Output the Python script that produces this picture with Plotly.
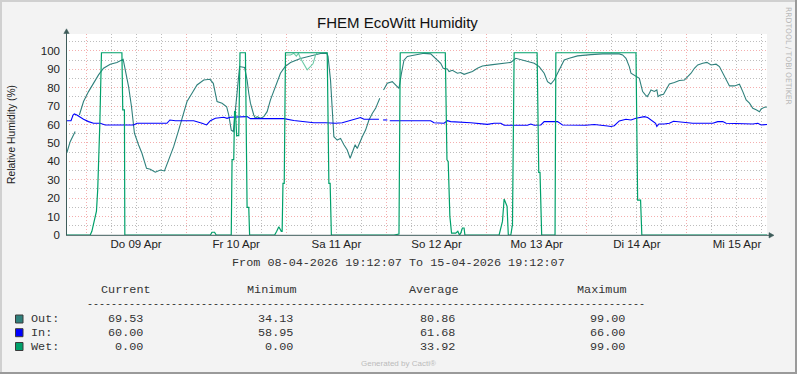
import datetime as dt
import plotly.graph_objects as go

# ---------------- data ----------------
START = dt.datetime(2026, 4, 8, 19, 12, 7)
END = dt.datetime(2026, 4, 15, 19, 12, 7)

# hours since START, relative humidity (%)
out_h = [0.2, 1.0, 2.2, 2.7, 3.2, 4.2, 5.4, 6.6, 7.8, 9.0, 10.6, 12.2, 13.7, 14.2, 15.0, 15.7, 16.4,
         17.4, 18.2, 19.3, 20.2, 21.4, 22.6, 23.6, 24.6, 25.8, 27.0, 28.2, 29.0, 30.2, 31.4, 33.0,
         34.5, 35.3, 36.2, 37.4, 38.5, 39.0, 39.6, 40.1, 40.6, 41.1, 41.6, 42.8, 43.4, 43.8, 44.2,
         45.0, 45.4, 45.8, 46.6, 47.4, 48.2, 49.0, 49.8, 50.6, 51.4, 52.5, 53.8, 56.2, 58.6, 61.0,
         62.5, 62.8, 63.4, 63.8, 64.2, 65.0, 65.8, 66.6, 67.4, 68.1, 68.6, 69.3, 69.8, 70.4, 71.0,
         71.8, 72.6, 73.4, 74.2, 75.2, 75.6, 76.1, 77.0, 78.2, 79.0, 79.8, 80.4, 81.0, 81.8, 83.8,
         85.8, 87.4, 88.6, 89.8, 90.4, 91.4, 91.8, 92.6, 93.8, 94.6, 95.4, 96.2, 97.4, 98.6, 99.8,
         101.8, 104.2, 106.6, 107.8, 108.6, 109.4, 110.6, 112.2, 113.4, 114.6, 115.4, 116.2, 117.0,
         117.8, 118.6, 119.4, 120.6, 122.6, 125.8, 128.6, 132.6, 133.4, 134.2, 135.0, 135.4, 136.6,
         137.4, 137.7, 138.2, 138.9, 139.3, 139.8, 140.2, 141.0, 141.6, 141.9, 142.4, 143.2, 143.8,
         144.6, 145.8, 147.0, 148.2, 149.0, 149.8, 150.6, 151.4, 152.6, 153.6, 154.6, 155.8, 156.6,
         157.4, 158.2, 159.0, 160.2, 161.4, 162.2, 163.0, 163.8, 164.6, 165.4, 166.2, 166.6, 167.4,
         168.0]
out_v = [44.7, 50.7, 56.2, None, 65.2, 72.5, 77.9, 82.4, 87.0, 90.6, 92.8, 93.7, 95.5, 89.7, 80.6,
         69.7, 55.3, 48.9, 44.4, 36.2, 35.7, 34.1, 35.3, 34.8, 40.8, 48.0, 57.0, 66.1, 72.5, 77.0,
         81.5, 84.2, 84.6, 82.4, 72.5, 71.6, 69.7, 65.2, 57.0, 56.2, 68.0, 80.0, 91.5, 91.0, 84.2,
         77.0, 71.6, 65.2, 63.4, 64.3, 63.4, 64.3, 67.0, 73.4, 78.0, 82.4, 87.9, 91.5, 93.7, 95.9,
         97.3, 98.6, 98.8, 97.0, 84.0, 66.0, 53.4, 51.6, 52.5, 49.0, 46.2, 41.7, 45.3, 49.0, 47.0,
         50.7, 53.4, 57.0, 62.5, 66.0, 68.8, 74.3, None, 78.8, 82.4, 83.3, 81.5, 79.7, 87.9, 95.0,
         97.0, 97.8, 98.7, 98.4, 96.0, 93.3, 90.6, 90.2, 88.8, 89.5, 87.9, 88.3, 87.3, 87.9, 88.8,
         90.6, 91.8, 92.4, 93.3, 93.8, 96.0, 95.5, 95.1, 94.2, 93.3, 91.5, 87.9, 83.3, 82.0, 84.2,
         87.9, 91.5, 95.1, 96.0, 97.3, 98.0, 98.4, 98.4, 97.8, 96.0, 91.5, 87.9, 86.0, 85.1, 82.4,
         77.9, 76.0, 75.2, 77.0, 78.8, 78.0, 78.8, 75.2, 76.0, 76.5, 78.8, 82.0, 82.8, 83.9, 84.2,
         86.0, 87.9, 90.6, 92.4, 93.3, 93.8, 92.4, 92.8, 91.5, 87.9, 84.2, 81.0, 81.0, 81.9, 77.9,
         73.4, 71.6, 68.8, 68.0, 67.0, 68.5, 69.4, 69.53]

in_h = [0.2, 1.2, 1.7, 2.0, 2.6, 3.4, 4.2, 5.4, 6.6, 8.2, 9.4, 16.2, 17.0, 24.2, 24.9, 26.2, 30.6,
        32.6, 33.7, 34.6, 35.8, 37.8, 38.6, 39.4, 43.4, 44.2, 52.2, 54.6, 58.2, 59.4, 62.2, 64.6,
        66.2, 67.8, 69.4, 70.6, 71.4, 75.0, 75.5, 76.0, 77.0, 77.3, 77.6, 82.6, 87.4, 88.2, 90.6,
        91.4, 92.2, 97.0, 101.0, 102.6, 104.2, 105.0, 110.6, 111.4, 112.2, 113.8, 114.6, 117.8,
        119.0, 124.6, 126.6, 129.8, 130.6, 131.4, 132.0, 132.6, 134.2, 135.4, 136.6, 137.6, 138.6,
        139.4, 140.6, 141.3, 141.6, 142.1, 143.4, 144.6, 145.6, 146.6, 148.2, 150.2, 155.0, 156.2,
        157.4, 158.2, 164.6, 165.8, 166.6, 168.0]
in_v = [62.1, 62.1, 65.2, 65.8, 65.2, 64.0, 62.9, 61.6, 60.7, 60.7, 59.8, 59.8, 60.7, 60.7, 62.5,
        62.1, 62.1, 60.7, 59.8, 62.1, 63.4, 64.0, 63.4, 64.0, 64.3, 63.2, 63.2, 62.2, 61.6, 61.0,
        61.0, 60.7, 61.0, 62.1, 62.9, 63.8, 62.9, 62.9, None, 62.5, 62.5, None, 62.1, 62.1, 62.1,
        61.0, 60.7, 62.1, 61.6, 61.0, 60.1, 60.7, 60.7, 59.6, 59.6, 60.3, 59.6, 59.8, 61.6, 61.6,
        59.8, 59.6, 60.0, 59.2, 58.95, 59.4, 60.7, 62.0, 62.9, 62.5, 63.4, 64.0, 64.3, 63.8, 62.1,
        60.7, 58.95, 60.3, 60.3, 60.7, 61.8, 61.6, 61.0, 60.7, 60.7, 61.6, 61.6, 60.7, 60.3, 60.7,
        59.8, 60.0]

wet_h = [0.0, 5.8, 6.2, 6.8, 7.3, 7.6, 7.8, 8.1, 8.5, 13.4, 13.6, 14.0, 14.1, 34.6, 35.0, 35.6,
         36.0, 39.6, 39.8, 40.2, 40.4, 40.6, 40.9, 41.4, 41.7, 43.0, 43.4, 43.8, 44.0, 50.0, 50.5,
         51.0, 51.6, 51.8, 52.0, 52.3, 52.6, 62.6, 63.0, 63.3, 63.6, 78.6, 79.8, 80.1, 90.9, 91.3,
         91.6, 92.0, 92.4, 93.4, 93.9, 94.3, 94.6, 95.0, 95.4, 95.6, 103.8, 104.2, 104.6, 105.0,
         105.4, 105.7, 106.0, 106.6, 107.0, 107.4, 112.9, 113.3, 113.6, 114.0, 117.2, 117.4, 136.6,
         137.0, 137.7, 138.0, 168.0]
wet_v = [0, 0, 2, 8.3, 13, 24.6, 35.5, 60, 99, 99, 68, 68, 0, 0, 1.5, 1.5, 0, 0, 41, 41, 67, 67,
         54, 54, 99, 99, 15, 15, 0, 0, 2, 4.5, 2, 2, 28, 28, 99, 99, 28, 28, 0, 0, 0.5, 99, 99, 40.8,
         40, 10, 1, 1, 2, 0, 1, 3.8, 3.8, 0, 0, 3.3, 7.4, 19.6, 16.5, 15.6, 0, 0, 5.6, 99, 99, 34,
         34, 0, 0, 99, 99, 19, 19, 0, 0]

# second (max) wet trace visible around Sa 11 Apr
wet2_h = [52.8, 53.8, 54.6, 55.2, 55.7, 56.2, 57.8, 58.6, 59.2, 59.8, 60.2]
wet2_v = [97.8, 97.8, 98.7, 97.2, 98.7, 96.0, 89.7, 91.5, 93.0, 97.8, 99.0]

day_labels = ["Do 09 Apr", "Fr 10 Apr", "Sa 11 Apr", "So 12 Apr", "Mo 13 Apr", "Di 14 Apr", "Mi 15 Apr"]
label_days = [9, 10, 11, 12, 13, 14, 15]

series_names = ["Out:", "In:", "Wet:"]
series_colors = ["#2F807C", "#0000FF", "#00A06A"]
current = [69.53, 60.00, 0.00]
minimum = [34.13, 58.95, 0.00]
average = [80.86, 61.68, 33.92]
maximum = [99.00, 66.00, 99.00]

TITLE = "FHEM EcoWitt Humidity"
YTITLE = "Relative Humidity (%)"

# ---------------- layout helpers ----------------
W, H = 797, 374
L, R, T, B = 66, 30, 34, 139
PW, PH = W - L - R, H - T - B


def px(x):
    return (x - L) / PW


def py(y):
    return (H - B - y) / PH


def tt(hours):
    return [START + dt.timedelta(hours=v) for v in hours]


fig = go.Figure()
fig.add_trace(go.Scatter(x=tt(out_h), y=out_v, mode="lines", line=dict(color=series_colors[0], width=1.1),
                         connectgaps=False, hoverinfo="skip", xaxis="x", yaxis="y"))
fig.add_trace(go.Scatter(x=tt(in_h), y=in_v, mode="lines", line=dict(color=series_colors[1], width=1.1),
                         connectgaps=False, hoverinfo="skip", xaxis="x", yaxis="y"))
fig.add_trace(go.Scatter(x=tt(wet2_h), y=wet2_v, mode="lines", line=dict(color="#6CCBA6", width=1.1),
                         hoverinfo="skip", xaxis="x", yaxis="y"))
fig.add_trace(go.Scatter(x=tt(wet_h), y=wet_v, mode="lines", line=dict(color=series_colors[2], width=1.2),
                         hoverinfo="skip", xaxis="x", yaxis="y"))
# invisible trace carrying the label axis
fig.add_trace(go.Scatter(x=[START, END], y=[None, None], mode="lines", xaxis="x2", yaxis="y",
                         hoverinfo="skip"))

label_vals = [dt.datetime(2026, 4, d, 12, 0, 0) for d in label_days]

MAJ = "rgba(238,130,130,0.65)"
MIN = "#BDBDBD"
DOT = "1px,2px"

fig.update_layout(
    width=W, height=H, autosize=False,
    margin=dict(l=L, r=R, t=T, b=B, pad=0, autoexpand=False),
    paper_bgcolor="#F3F3F3", plot_bgcolor="#FFFFFF",
    showlegend=False,
    font=dict(family="Liberation Sans, Arial, sans-serif", size=11, color="#222222"),
    xaxis=dict(type="date", range=[START, END], showticklabels=False, ticks="",
               tick0="2026-04-09 00:00:00", dtick=86400000,
               showgrid=True, gridcolor=MAJ, griddash=DOT, gridwidth=1,
               minor=dict(dtick=6 * 3600000, tick0="2026-04-09 00:00:00", showgrid=True,
                          gridcolor=MIN, griddash=DOT, gridwidth=1),
               showline=False, zeroline=False, fixedrange=True, automargin=False),
    xaxis2=dict(type="date", range=[START, END], overlaying="x", side="bottom",
                tickmode="array", tickvals=label_vals, ticktext=day_labels,
                showgrid=False, ticks="", showline=False, zeroline=False, automargin=False,
                tickfont=dict(size=11.5, color="#222222"), fixedrange=True),
    yaxis=dict(range=[0, 109.2], tick0=0, dtick=10, ticks="", ticklabelstandoff=5,
               showgrid=True, gridcolor=MAJ, griddash=DOT, gridwidth=1,
               minor=dict(dtick=5, showgrid=True, gridcolor=MIN, griddash=DOT, gridwidth=1),
               showline=False, zeroline=False, tickfont=dict(size=11.5, color="#222222"),
               fixedrange=True, automargin=False),
)

shapes = []
AX = "#3E5C5A"
# axes with arrows
shapes.append(dict(type="line", xref="paper", yref="paper", x0=px(66.5), x1=px(66.5), y0=py(235), y1=py(31),
                   line=dict(color=AX, width=1)))
shapes.append(dict(type="line", xref="paper", yref="paper", x0=px(66), x1=px(770), y0=py(235.3), y1=py(235.3),
                   line=dict(color=AX, width=1)))
shapes.append(dict(type="path", xref="paper", yref="paper",
                   path=f"M {px(63.8)} {py(33.5)} L {px(69.2)} {py(33.5)} L {px(66.5)} {py(28.8)} Z",
                   fillcolor=AX, line=dict(color=AX, width=0.5)))
shapes.append(dict(type="path", xref="paper", yref="paper",
                   path=f"M {px(769)} {py(232.6)} L {px(769)} {py(238)} L {px(774)} {py(235.3)} Z",
                   fillcolor=AX, line=dict(color=AX, width=0.5)))
# outer frame
shapes.append(dict(type="line", xref="paper", yref="paper", x0=px(0), x1=px(797), y0=py(1), y1=py(1),
                   line=dict(color="#D0D0D0", width=2)))
shapes.append(dict(type="line", xref="paper", yref="paper", x0=px(1), x1=px(1), y0=py(0), y1=py(374),
                   line=dict(color="#D0D0D0", width=2)))
shapes.append(dict(type="line", xref="paper", yref="paper", x0=px(0), x1=px(797), y0=py(373), y1=py(373),
                   line=dict(color="#9A9A9A", width=2)))
shapes.append(dict(type="line", xref="paper", yref="paper", x0=px(796), x1=px(796), y0=py(0), y1=py(374),
                   line=dict(color="#9A9A9A", width=2)))

ann = []
MONO = "Liberation Mono, Courier New, monospace"
ann.append(dict(text=TITLE, x=px(397.5), y=py(22.5), xref="paper", yref="paper", showarrow=False,
                xanchor="center", yanchor="middle", font=dict(size=15, color="#111111")))
ann.append(dict(text=YTITLE, x=px(11.5), y=py(134.5), xref="paper", yref="paper", showarrow=False,
                textangle=-90, xanchor="center", yanchor="middle", font=dict(size=10.3, color="#222222")))
ann.append(dict(text="RRDTOOL / TOBI OETIKER", x=px(788), y=py(56), xref="paper", yref="paper",
                showarrow=False, textangle=90, xanchor="center", yanchor="middle",
                font=dict(family="DejaVu Sans, sans-serif", size=7.6, color="#B8B8B8")))
ann.append(dict(text=f"From {START:%d-%m-%Y %H:%M:%S} To {END:%d-%m-%Y %H:%M:%S}",
                x=px(398), y=py(263), xref="paper", yref="paper", showarrow=False, borderpad=0,
                xanchor="center", yanchor="middle", font=dict(family=MONO, size=11.8, color="#333333")))

headers = ["Current", "Minimum", "Average", "Maximum"]
head_x = [99.5, 246.2, 407.5, 575.5]
for hx, htxt in zip(head_x, headers):
    ann.append(dict(text=htxt, x=px(hx), y=py(290), xref="paper", yref="paper", showarrow=False,
                    borderpad=0, xanchor="left", yanchor="middle",
                    font=dict(family=MONO, size=11.8, color="#333333")))
ann.append(dict(text="-" * 93, x=px(86), y=py(304.3), xref="paper", yref="paper", showarrow=False,
                borderpad=0, xanchor="left", yanchor="middle",
                font=dict(family=MONO, size=10, color="#333333")))

row_y = [319, 332.7, 346.5]
col_right = [144, 293.5, 456, 626]
for i, name in enumerate(series_names):
    yy = row_y[i]
    shapes.append(dict(type="rect", xref="paper", yref="paper", x0=px(15.5), x1=px(23), y0=py(yy - 4),
                       y1=py(yy + 4), fillcolor=series_colors[i], line=dict(color="#3A3A3A", width=1)))
    ann.append(dict(text=name, x=px(29.5), y=py(yy), xref="paper", yref="paper", showarrow=False,
                    borderpad=0, xanchor="left", yanchor="middle",
                    font=dict(family=MONO, size=11.8, color="#333333")))
    for cx, col in zip(col_right, [current, minimum, average, maximum]):
        ann.append(dict(text=f"{col[i]:.2f}", x=px(cx), y=py(yy), xref="paper", yref="paper",
                        showarrow=False, borderpad=0, xanchor="right", yanchor="middle",
                        font=dict(family=MONO, size=11.8, color="#333333")))

ann.append(dict(text="Generated by Cacti®", x=px(398.5), y=py(363.5), xref="paper", yref="paper",
                showarrow=False, xanchor="center", yanchor="middle",
                font=dict(size=8, color="#BBBBBB")))

fig.update_layout(shapes=shapes, annotations=ann)
fig.write_html("out.html", config={"displayModeBar": False, "staticPlot": True})

# remove default page margin so the figure sits at the window's top-left corner
with open("out.html", "r", encoding="utf-8") as f:
    page = f.read()
page = page.replace("<head>", "<head><style>html,body{margin:0;padding:0;overflow:hidden;}</style>", 1)
with open("out.html", "w", encoding="utf-8") as f:
    f.write(page)
